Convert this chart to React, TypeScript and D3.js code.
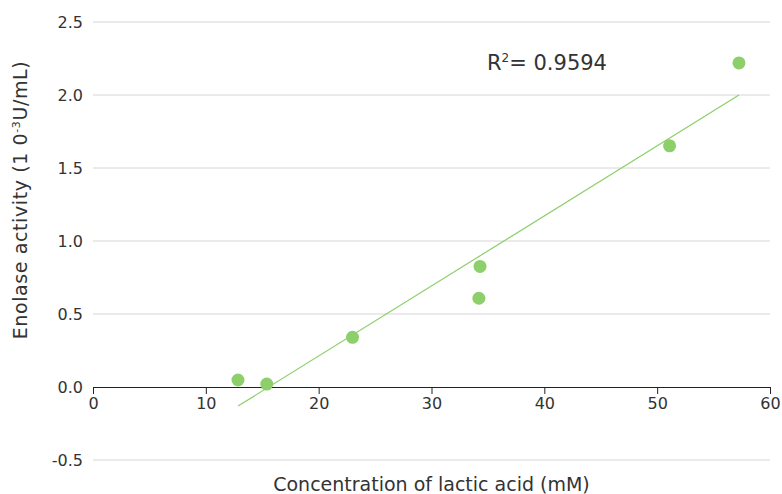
import React, { useEffect, useRef } from "react";
import * as d3 from "d3";

// lactic acid (mM) vs enolase activity
const lacticAcid = [12.85, 15.4, 23.0, 34.3, 34.2, 51.1, 57.25];
const enolase = [0.048, 0.02, 0.34, 0.826, 0.608, 1.652, 2.22];
const yTicks = [-0.5, 0, 0.5, 1.0, 1.5, 2.0, 2.5];
const xTicks = [0, 10, 20, 30, 40, 50, 60];
const r2Label = "0.9594";

const green = "#8ccf6b";
const font = "'DejaVu Sans', sans-serif";
const textColor = "#333";

const App = () => {
  const chart = useRef<SVGSVGElement>(null);
  const width = 782;
  const height = 494;

  useEffect(() => {
    document.body.style.margin = "0";
    const svg = d3.select(chart.current);
    svg.selectAll("*").remove();

    const x = d3.scaleLinear().domain([0, 60]).range([93, 770]);
    const y = d3.scaleLinear().domain([-0.5, 2.5]).range([460, 22]);
    const fmt = (d: number) => d3.format(".1f")(d).replace("−", "-");

    // gridlines
    svg
      .append("g")
      .selectAll("line")
      .data(yTicks.filter((d) => d !== 0))
      .join("line")
      .attr("x1", x(0))
      .attr("x2", x(60))
      .attr("y1", (d) => y(d))
      .attr("y2", (d) => y(d))
      .attr("stroke", "#d6d6d6")
      .attr("stroke-width", 1);

    // y tick labels
    svg
      .append("g")
      .selectAll("text")
      .data(yTicks)
      .join("text")
      .attr("x", 83)
      .attr("y", (d) => y(d))
      .attr("dy", "0.35em")
      .attr("text-anchor", "end")
      .attr("font-family", font)
      .attr("font-size", 16)
      .attr("fill", textColor)
      .text((d) => fmt(d));

    // x axis
    const xAxis = svg
      .append("g")
      .attr("transform", `translate(0,${y(0)})`)
      .call(d3.axisBottom(x).tickValues(xTicks).tickSize(7).tickSizeOuter(0).tickPadding(4));
    xAxis.select(".domain").attr("stroke", "#222");
    xAxis.selectAll(".tick line").attr("stroke", "#222");
    xAxis
      .selectAll(".tick text")
      .attr("font-family", font)
      .attr("font-size", 16)
      .attr("fill", textColor);

    // regression
    const pts = lacticAcid.map((v, i) => [v, enolase[i]]);
    const mx = d3.mean(lacticAcid)!;
    const my = d3.mean(enolase)!;
    const sxy = d3.sum(pts, (p) => (p[0] - mx) * (p[1] - my));
    const sxx = d3.sum(pts, (p) => (p[0] - mx) ** 2);
    const slope = sxy / sxx;
    const icpt = my - slope * mx;
    const [x0, x1] = d3.extent(lacticAcid) as [number, number];

    svg
      .append("path")
      .datum([x0, x1])
      .attr("fill", "none")
      .attr("stroke", green)
      .attr("stroke-width", 1.2)
      .attr(
        "d",
        d3
          .line<number>()
          .x((d) => x(d))
          .y((d) => y(icpt + slope * d))
      );

    svg
      .append("g")
      .selectAll("circle")
      .data(pts)
      .join("circle")
      .attr("cx", (d) => x(d[0]))
      .attr("cy", (d) => y(d[1]))
      .attr("r", 6.5)
      .attr("fill", green);

    // R² label
    const r2 = svg
      .append("text")
      .attr("x", 487)
      .attr("y", 70)
      .attr("font-family", font)
      .attr("font-size", 21)
      .attr("fill", textColor);
    r2.append("tspan").text("R");
    r2.append("tspan").attr("font-size", 12).attr("dy", -8).text("2");
    r2.append("tspan").attr("dy", 8).text(`= ${r2Label}`);

    // axis titles
    svg
      .append("text")
      .attr("x", (x(0) + x(60)) / 2)
      .attr("y", 491)
      .attr("text-anchor", "middle")
      .attr("font-family", font)
      .attr("font-size", 19)
      .attr("fill", textColor)
      .text("Concentration of lactic acid (mM)");

    const yt = svg
      .append("text")
      .attr("transform", `translate(27,200) rotate(-90)`)
      .attr("text-anchor", "middle")
      .attr("font-family", font)
      .attr("font-size", 19)
      .attr("letter-spacing", 0.6)
      .attr("fill", textColor);
    yt.append("tspan").text("Enolase activity (1 0");
    yt.append("tspan").attr("font-size", 11).attr("dy", -7).text("-3");
    yt.append("tspan").attr("dy", 7).text("U/mL)");
  }, []);

  return (
    <div id="chartArea">
      <svg ref={chart} width={width} height={height} style={{ display: "block" }}></svg>
    </div>
  );
};

export default App;
